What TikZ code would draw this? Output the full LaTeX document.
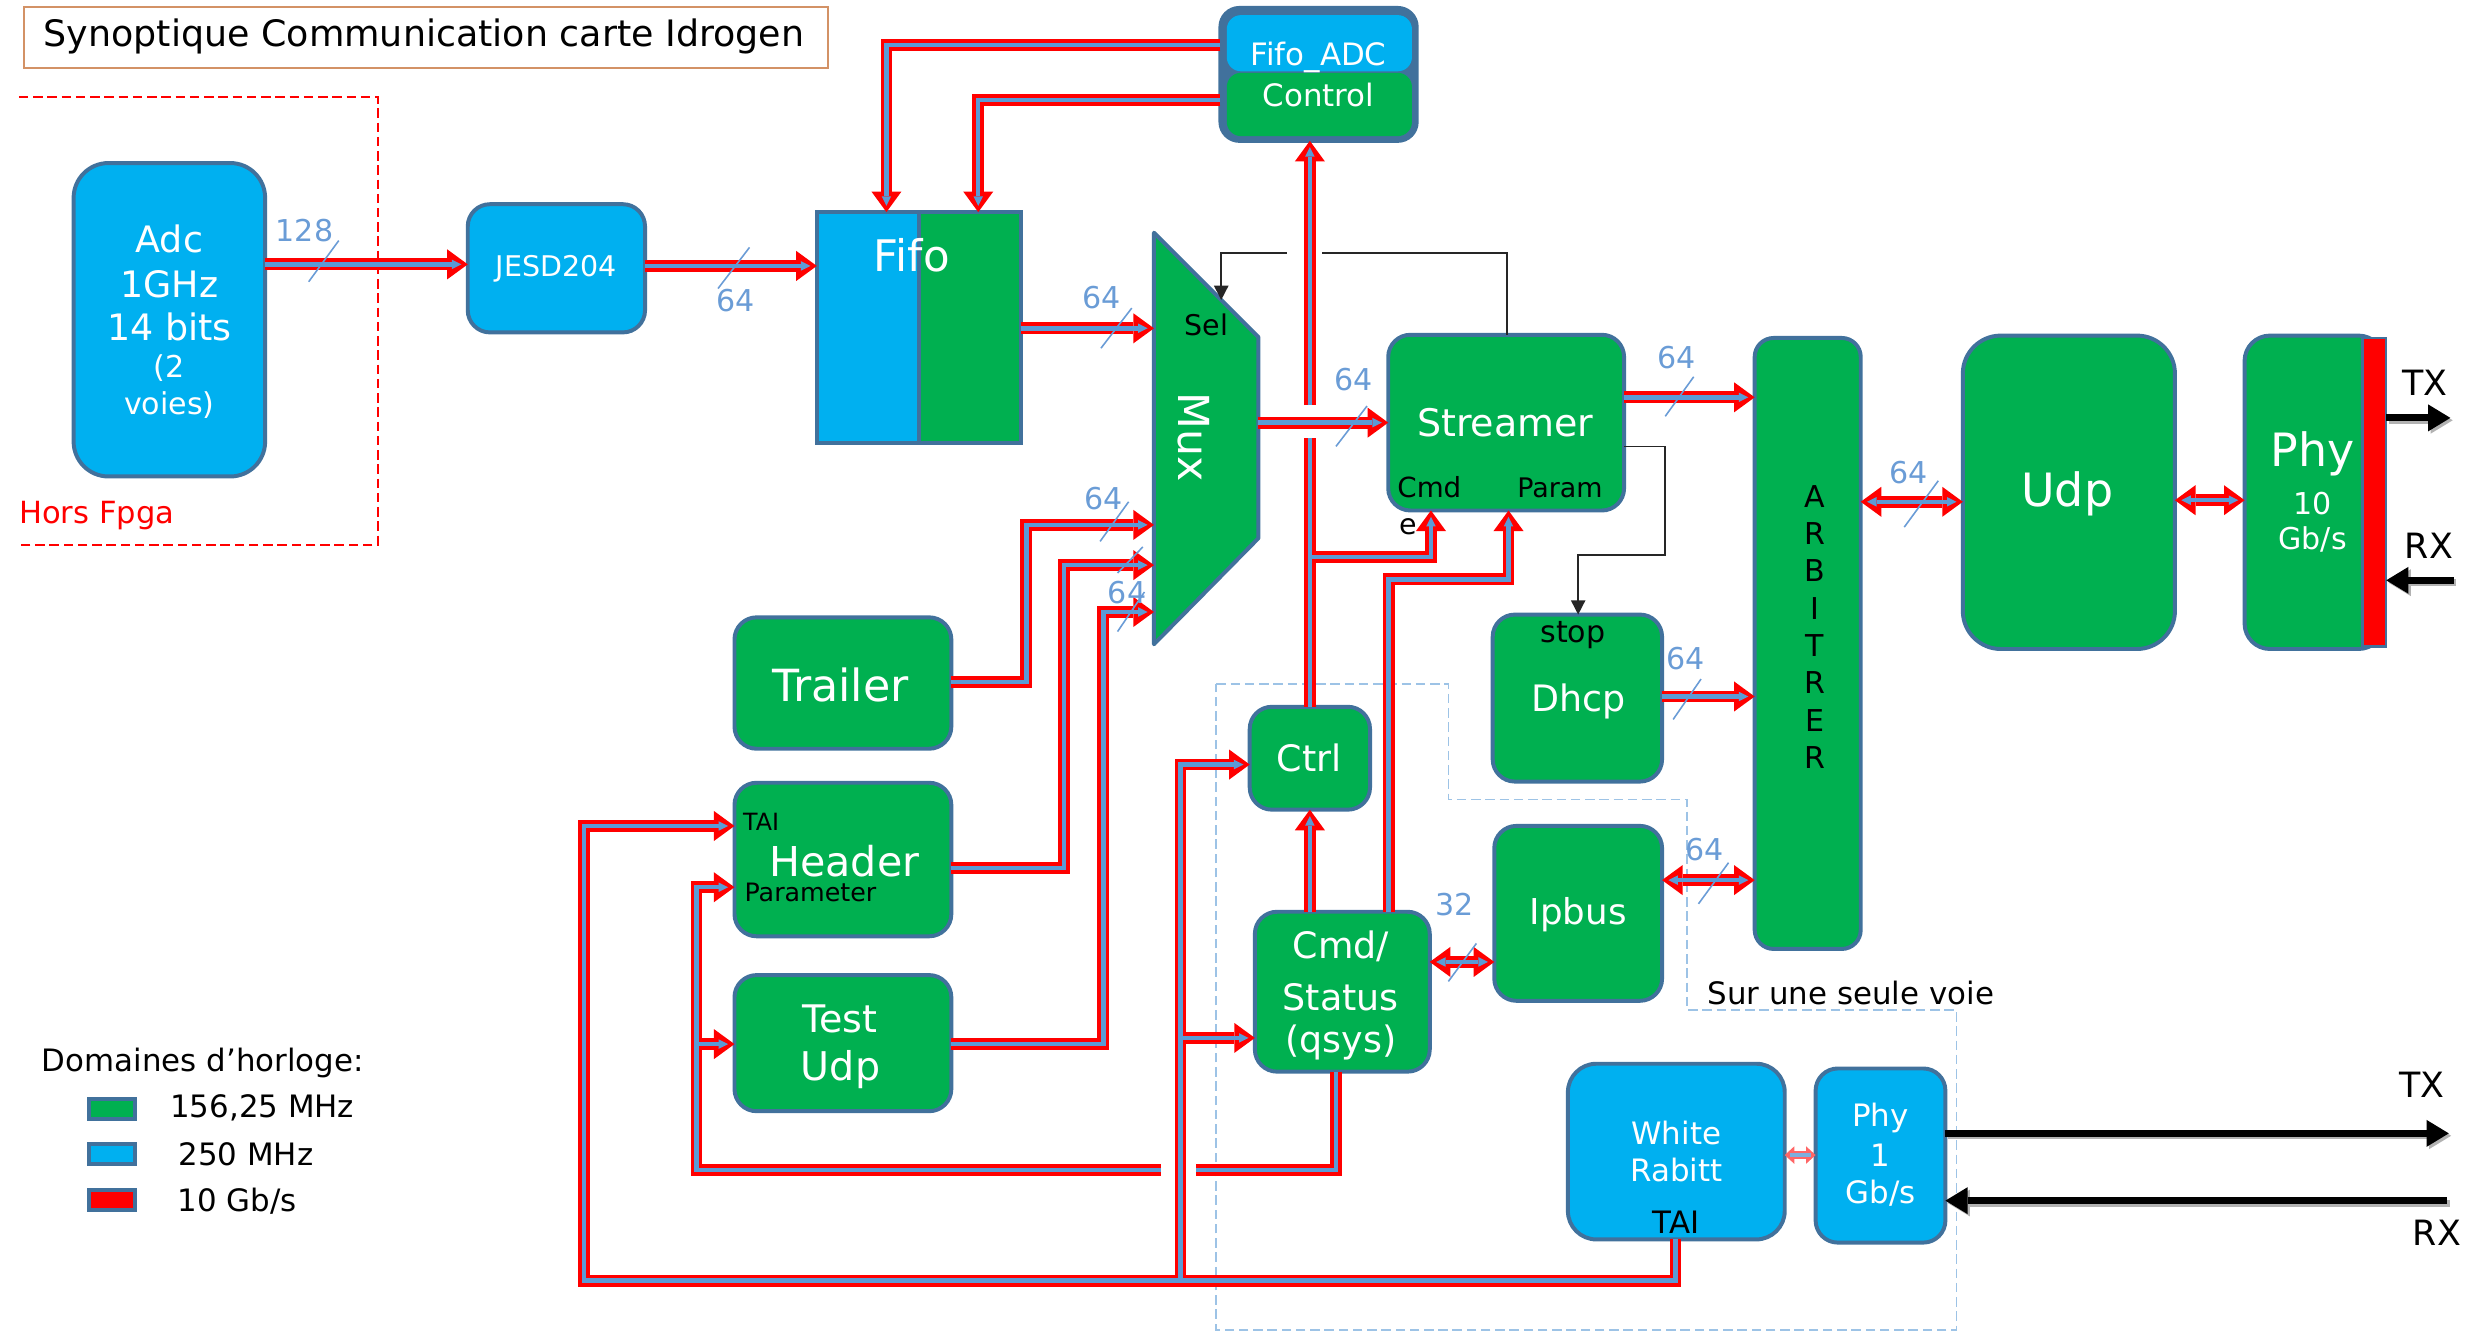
\documentclass[tikz,border=0pt]{standalone}
\usepackage{fontspec}
\setmainfont{DejaVu Sans}
\usetikzlibrary{arrows.meta}
\definecolor{pgreen}{HTML}{00B050}
\definecolor{pcyan}{HTML}{00B0F0}
\definecolor{pborder}{HTML}{41719C}
\definecolor{busblue}{HTML}{5B9BD5}
\definecolor{numblue}{HTML}{6A9CD6}
\definecolor{titleline}{HTML}{D39266}
\definecolor{voieblue}{HTML}{9DC3E6}
\newcommand\fsz[1]{\fontsize{#1}{#1}\selectfont}
\pgfdeclarelayer{core}
\pgfsetlayers{main,core}
% bus: wide red line with a red head, then its blue core on a top layer so that junctions merge
\newcommand\bus[3]{\draw[busline,#1] #3;\begin{pgfonlayer}{core}\draw[buscore,#2] #3;\end{pgfonlayer}}
\begin{document}
\begin{tikzpicture}[x=1pt,y=-1pt,
  box/.style={draw=pborder, line width=2.5pt, rounded corners=14pt, inner sep=0pt, outer sep=0pt},
  gbox/.style={box, fill=pgreen},
  cbox/.style={box, fill=pcyan},
  wt/.style={inner sep=0pt, text=white},
  bt/.style={inner sep=0pt, text=black},
  num/.style={inner sep=0pt, text=numblue, font=\fsz{19}},
  tick/.style={draw=numblue, line width=1pt},
  busline/.style={draw=red, line width=7.5pt},
  buscore/.style={draw=busblue, line width=2.8pt},
  to/.style={-{Triangle[length=13pt,width=19pt,line width=0pt]}},
  both/.style={{Triangle[length=13pt,width=19pt,line width=0pt]}-{Triangle[length=13pt,width=19pt,line width=0pt]}},
  ce/.style={shorten >=4pt, -{Triangle[length=6pt,width=6pt,line width=0pt]}},
  cb/.style={shorten >=4pt, shorten <=4pt, {Triangle[length=6pt,width=6pt,line width=0pt]}-{Triangle[length=6pt,width=6pt,line width=0pt]}},
  ctl/.style={draw=black!85, line width=1pt},
  sig/.style={draw=black, line width=4.4pt, -{Triangle[length=14pt,width=17pt,line width=0pt]}},
  swatch/.style={draw=pborder, line width=2.5pt, minimum width=29pt, minimum height=13pt, inner sep=0pt},
]
\useasboundingbox (0,0) rectangle (1568,841);

% ---- title and outside-FPGA area
\node[draw=titleline, line width=1.2pt, minimum width=507.6, minimum height=38.4, inner sep=0pt] (title) at (269.2,23.7) {};
\node[bt, anchor=west, font=\fsz{23}] (titletext) at (27.4,23.2) {Synoptique Communication carte Idrogen};
\draw[red, line width=1.3pt, dash pattern=on 6pt off 3pt] (12,61) -- (238.6,61) -- (238.6,344) -- (12,344);
\node[inner sep=0pt, text=red, anchor=west, font=\fsz{19.3}] (horsfpga) at (12,326) {Hors Fpga};

% ---- single-lane area
\draw[voieblue, line width=1.1pt, dash pattern=on 6pt off 3pt] (768.4,432) -- (915,432) -- (915,505) -- (1065.7,505) -- (1065.7,638) -- (1236,638) -- (1236,840) -- (768.4,840) -- cycle;
\node[bt, anchor=west, font=\fsz{19.5}] (voie) at (1078.6,627) {Sur une seule voie};

% ---- blocks
\node[cbox, rounded corners=22pt, minimum width=121, minimum height=198] (adc) at (107,202) {};
\node[wt, font=\fsz{23}] (adc1) at (107,151) {Adc};
\node[wt, font=\fsz{23}] (adc2) at (107,179.3) {1GHz};
\node[wt, font=\fsz{23}] (adc3) at (107,206.4) {14 bits};
\node[wt, font=\fsz{19}] (adc4) at (107,232.4) {(2};
\node[wt, font=\fsz{19}] (adc5) at (107,256) {voies)};

\node[cbox, minimum width=112, minimum height=81] (jesd) at (351.5,169.5) {};
\node[wt, font=\fsz{18}] (jesdt) at (351.5,169.6) {JESD204};

\node[draw=pborder, line width=2.5pt, fill=pborder, minimum width=129, minimum height=146, inner sep=0pt, outer sep=0pt,
  path picture={\fill[pcyan] (path picture bounding box.north west) rectangle ([xshift=-1.3pt]path picture bounding box.south);
                \fill[pgreen] ([xshift=1.3pt]path picture bounding box.north) rectangle (path picture bounding box.south east);}] (fifo) at (580.5,207) {};
\node[wt, font=\fsz{27.5}] (fifot) at (576,161) {Fifo};

\node[box, fill=pborder, rounded corners=12pt, minimum width=124, minimum height=84] (fifoadc) at (833,47) {};
\node[fill=pcyan, rounded corners=9pt, minimum width=117, minimum height=35.5, inner sep=0pt] (fifoadctop) at (833.5,27.3) {};
\node[fill=pgreen, rounded corners=9pt, minimum width=117, minimum height=40, inner sep=0pt] (fifoadcbot) at (833.5,66) {};
\node[wt, font=\fsz{19.5}] (fifoadct) at (833,36) {Fifo\_ADC};
\node[wt, font=\fsz{19.5}] (controlt) at (833,60) {Control};

\node[minimum width=66, minimum height=260, inner sep=0pt, outer sep=0pt] (mux) at (762,277) {};
\filldraw[fill=pgreen, draw=pborder, line width=2.5pt, line join=round] (729,147) -- (795,213) -- (795,340) -- (729,407) -- cycle;
\node[bt, font=\fsz{18}] (selt) at (762,205) {Sel};
\node[wt, font=\fsz{27}, rotate=-90] (muxt) at (754,276) {Mux};

\node[gbox, minimum width=149, minimum height=111] (streamer) at (951.5,267) {};
\node[wt, font=\fsz{24}] (streamert) at (951,267) {Streamer};
\node[bt, font=\fsz{17.5}] (cmdt) at (903,308) {Cmd};
\node[bt, font=\fsz{17}] (paramt) at (985.5,308) {Param};
\node[bt, font=\fsz{18}] (et) at (889.5,333) {e};

\node[gbox, rounded corners=12pt, minimum width=67, minimum height=386] (arb) at (1142,406.5) {};
\foreach \l [count=\i from 0] in {A,R,B,I,T,R,E,R}
  \node[bt, font=\fsz{19}] (arb\i) at (1146.4,{313.6+23.55*\i}) {\l};

\node[gbox, rounded corners=24pt, minimum width=134, minimum height=198] (udp) at (1307,311) {};
\node[wt, font=\fsz{29}] (udpt) at (1306,312) {Udp};

\node[gbox, rounded corners=16pt, minimum width=88, minimum height=198] (phy10) at (1462,311) {};
\node[draw=pborder, line width=1.5pt, fill=red, minimum width=15, minimum height=195, inner sep=0pt, outer sep=0pt] (phybar) at (1500,311) {};
\node[wt, font=\fsz{29}] (phy10a) at (1461,287) {Phy};
\node[wt, font=\fsz{19}] (phy10b) at (1461,318) {10};
\node[wt, font=\fsz{19}] (phy10c) at (1461,341) {Gb/s};

\node[gbox, minimum width=107, minimum height=105.5] (dhcp) at (996.5,441) {};
\node[bt, font=\fsz{19}] (stopt) at (993.7,401) {stop};
\node[wt, font=\fsz{23}] (dhcpt) at (997,443) {Dhcp};

\node[gbox, minimum width=106, minimum height=110.5] (ipbus) at (997,577) {};
\node[wt, font=\fsz{22.5}] (ipbust) at (997,578) {Ipbus};

\node[gbox, minimum width=137, minimum height=83] (trailer) at (532.5,431.5) {};
\node[wt, font=\fsz{28}] (trailert) at (531,433) {Trailer};

\node[gbox, minimum width=137, minimum height=97] (header) at (532.5,543) {};
\node[wt, font=\fsz{26}] (headert) at (533.4,544) {Header};
\node[bt, font=\fsz{15}] (taih) at (480.8,519) {TAI};
\node[bt, font=\fsz{16}] (paramh) at (512,564) {Parameter};

\node[gbox, minimum width=137, minimum height=86] (testudp) at (532.5,659) {};
\node[wt, font=\fsz{24}] (testt) at (530.6,644) {Test};
\node[wt, font=\fsz{25}] (testu) at (531,676) {Udp};

\node[gbox, minimum width=76, minimum height=65] (ctrl) at (827.5,479) {};
\node[wt, font=\fsz{23}] (ctrlt) at (827,479) {Ctrl};

\node[gbox, minimum width=110.5, minimum height=101] (cmdstatus) at (848,626.5) {};
\node[wt, font=\fsz{23}] (cs1) at (847,598) {Cmd/};
\node[wt, font=\fsz{23}] (cs2) at (847,630) {Status};
\node[wt, font=\fsz{23}] (cs3) at (847,658.5) {(qsys)};

\node[cbox, rounded corners=18pt, minimum width=137, minimum height=111] (wr) at (1059,727.5) {};
\node[wt, font=\fsz{19.5}] (wr1) at (1059,716) {White};
\node[wt, font=\fsz{19.5}] (wr2) at (1059,739) {Rabitt};
\node[bt, font=\fsz{19.5}] (wr3) at (1059,772) {TAI};

\node[cbox, minimum width=82, minimum height=110] (phy1) at (1188,730) {};
\node[wt, font=\fsz{19.5}] (phy1a) at (1188,706) {Phy};
\node[wt, font=\fsz{19.5}] (phy1b) at (1188,729.6) {1};
\node[wt, font=\fsz{19.5}] (phy1c) at (1188,754) {Gb/s};

% ---- legend
\node[bt, anchor=west, font=\fsz{19.5}] (legt) at (26.3,671.7) {Domaines d’horloge:};
\node[swatch, fill=pgreen] (sw1) at (71,700.5) {};
\node[swatch, fill=pcyan] (sw2) at (71,729) {};
\node[swatch, fill=red] (sw3) at (71,758) {};
\node[bt, anchor=west, font=\fsz{19.5}] (leg1) at (107.4,700) {156,25 MHz};
\node[bt, anchor=west, font=\fsz{19.5}] (leg2) at (112.6,729) {250 MHz};
\node[bt, anchor=west, font=\fsz{19.5}] (leg3) at (112,759) {10 Gb/s};

% ---- 10 Gb/s buses
\bus{to}{ce}{(adc.east |- 0,167) -- (jesd.west |- 0,167)}
\bus{to}{ce}{(jesd.east |- 0,168) -- (fifo.west |- 0,168)}
\bus{to}{ce}{(fifoadc.west |- 0,28.4) -| (fifo.north -| 560,0)}
\bus{to}{ce}{(fifoadc.west |- 0,63) -| (fifo.north -| 618,0)}
\bus{to}{ce}{(fifo.east |- 0,207.4) -- (mux.west |- 0,207.4)}
\bus{to}{ce}{(trailer.east |- 0,431) -| (648.4,331.6) -- (mux.west |- 0,331.6)}
\bus{to}{ce}{(header.east |- 0,548.4) -| (672,357) -- (mux.west |- 0,357)}
\bus{to}{ce}{(testudp.east |- 0,659.6) -| (697,386.6) -- (mux.west |- 0,386.6)}
\bus{to}{ce}{(mux.east |- 0,267) -- (streamer.west |- 0,267)}
\bus{}{}{(ctrl.north) -- (ctrl.north |- 0,277)}
\bus{to}{ce}{(ctrl.north |- 0,352) -| (streamer.south -| 904,0)}
\bus{to}{ce}{(ctrl.north |- 0,256) -- (ctrl.north |- fifoadc.south)}
\bus{to}{ce}{(cmdstatus.north -| 877.3,0) |- (953,366) -- (streamer.south -| 953,0)}
\bus{to}{ce}{(streamer.east |- 0,251) -- (arb.west |- 0,251)}
\bus{to}{ce}{(dhcp.east |- 0,440) -- (arb.west |- 0,440)}
\bus{both}{cb}{(ipbus.east |- 0,556) -- (arb.west |- 0,556)}
\bus{both}{cb}{(arb.east |- 0,317) -- (udp.west |- 0,317)}
\bus{both}{cb}{(udp.east |- 0,316) -- (phy10.west |- 0,316)}
\bus{to}{ce}{(cmdstatus.north -| ctrl.south) -- (ctrl.south)}
\bus{both}{cb}{(cmdstatus.east |- 0,607.7) -- (ipbus.west |- 0,607.7)}
\bus{to}{ce}{(wr.south -| 1058.5,0) |- (369,809) |- (header.west |- 0,521.8)}
\bus{to}{ce}{(745.8,809) |- (ctrl.west |- 0,483)}
\bus{to}{ce}{(745.8,655.7) -- (cmdstatus.west |- 0,655.7)}
\bus{}{}{(cmdstatus.south -| 844,0) |- (755.5,739)}
\bus{to}{ce}{(733.4,739) -| (440,560.5) -- (header.west |- 0,560.5)}
\bus{to}{ce}{(440,659.6) -- (testudp.west |- 0,659.6)}
\draw[draw=red!60, line width=5pt, {Triangle[length=6pt,width=11pt,line width=0pt]}-{Triangle[length=6pt,width=11pt,line width=0pt]}] (wr.east |- 0,729.7) -- (phy1.west |- 0,729.7);
\draw[draw=busblue!80, line width=2pt, shorten >=3pt, shorten <=3pt] (wr.east |- 0,729.7) -- (phy1.west |- 0,729.7);

% ---- bus widths
\node[num] (n128) at (192.4,145.4) {128};
\draw[tick] (195,178) -- (214,152);
\node[num] (n1) at (464.6,190) {64};
\draw[tick] (453.6,182.3) -- (473.5,156.3);
\node[num] (n2) at (696,188) {64};
\draw[tick] (695.5,220) -- (715,194.6);
\node[num] (n3) at (697,315) {64};
\draw[tick] (695,342) -- (713,317);
\draw[tick] (706,362) -- (722,345.5);
\node[num] (n4) at (712,374.6) {64};
\draw[tick] (706,399) -- (723,374);
\node[num] (n5) at (855,240) {64};
\draw[tick] (844,282) -- (863.6,256.5);
\node[num] (n6) at (1059,226) {64};
\draw[tick] (1052,263) -- (1070,238);
\node[num] (n7) at (1064.8,416) {64};
\draw[tick] (1057,454.5) -- (1074.6,429);
\node[num] (n8) at (1077,537) {64};
\draw[tick] (1073,571) -- (1092,545);
\node[num] (n9) at (1205.6,298.8) {64};
\draw[tick] (1203,333) -- (1224.5,303.7);
\node[num] (n32) at (919,571.7) {32};
\draw[tick] (915,620) -- (932.7,596);

% ---- control lines
\coordinate (selpt) at (771.5,189.5);
\draw[ctl] (streamer.north -| 952,0) |- (835,160);
\draw[ctl, -{Triangle[length=9pt,width=9pt]}] (813,160) -| (selpt);
\draw[ctl, -{Triangle[length=9pt,width=9pt]}] (streamer.east |- 0,282) -| (1052,350.6) -| (dhcp.north -| 997,0);

% ---- serial links
\coordinate (txa) at (1548,264);
\coordinate (rxa) at (1550,366.6);
\coordinate (txb) at (1547,716);
\coordinate (rxb) at (1546,758.5);
\begin{scope}[transform canvas={xshift=1.5pt,yshift=-1.5pt}]
\draw[sig, draw=black!30] (phybar.east |- 0,264) -- (txa);
\draw[sig, draw=black!30] (rxa) -- (phybar.east |- 0,366.6);
\draw[sig, draw=black!30] (phy1.east |- 0,716) -- (txb);
\draw[sig, draw=black!30] (rxb) -- (phy1.east |- 0,758.5);
\end{scope}
\draw[sig] (phybar.east |- 0,264) -- (txa);
\draw[sig] (rxa) -- (phybar.east |- 0,366.6);
\draw[sig] (phy1.east |- 0,716) -- (txb);
\draw[sig] (rxb) -- (phy1.east |- 0,758.5);
\node[bt, font=\fsz{22}] (tx1) at (1532,241.7) {TX};
\node[bt, font=\fsz{22}] (rx1) at (1534.5,344.6) {RX};
\node[bt, font=\fsz{22}] (tx2) at (1530,685.4) {TX};
\node[bt, font=\fsz{22}] (rx2) at (1539.5,779) {RX};
\end{tikzpicture}
\end{document}
